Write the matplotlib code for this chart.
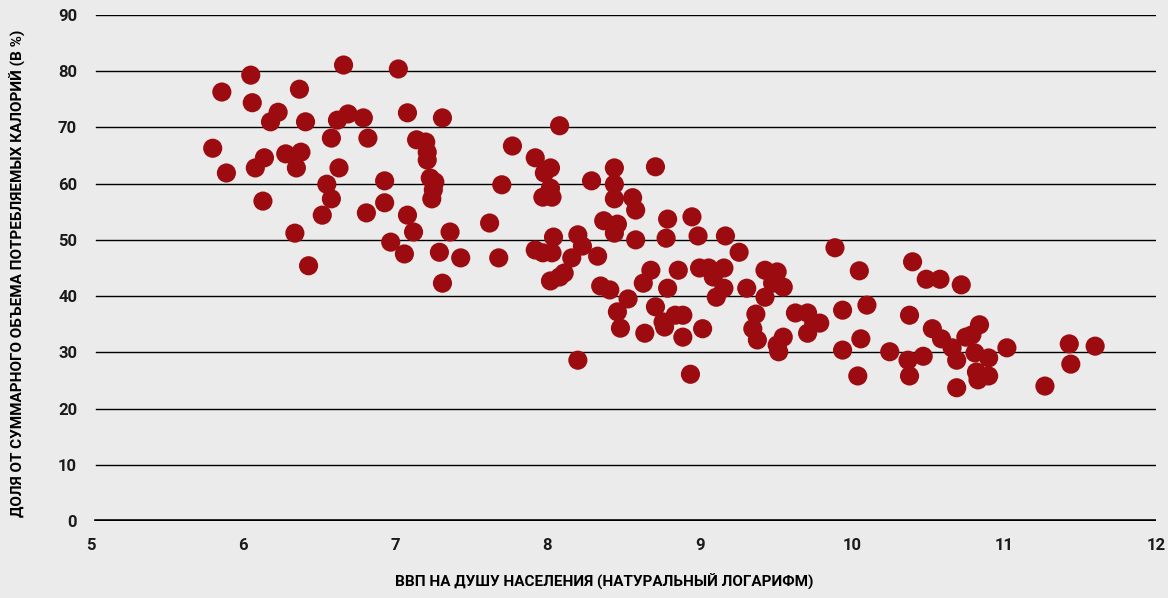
import matplotlib
matplotlib.use("Agg")
import matplotlib.pyplot as plt

# ln(GDP per capita) vs share of calories (%)
gdp_log = [
    5.80, 5.86, 5.89, 6.05, 6.06, 6.08, 6.14, 6.13, 6.18, 6.23,
    6.28, 6.34, 6.35, 6.37, 6.38, 6.41, 6.43, 6.52, 6.55, 6.58,
    6.58, 6.62, 6.63, 6.66, 6.69, 6.79, 6.81, 6.82, 6.93, 6.93,
    6.97, 7.02, 7.06, 7.08, 7.08, 7.12, 7.14, 7.20, 7.21, 7.21,
    7.23, 7.26, 7.25, 7.24, 7.29, 7.31, 7.31, 7.36, 7.43, 7.62,
    7.68, 7.70, 7.77, 7.92, 7.92, 7.97, 8.03, 7.98, 8.02, 8.02,
    7.97, 8.03, 8.04, 8.02, 8.08, 8.11, 8.08, 8.16, 8.20, 8.20,
    8.23, 8.29, 8.33, 8.35, 8.37, 8.41, 8.44, 8.44, 8.44, 8.44,
    8.46, 8.46, 8.48, 8.53, 8.56, 8.58, 8.58, 8.63, 8.64, 8.68,
    8.71, 8.71, 8.77, 8.78, 8.79, 8.79, 8.84, 8.89, 8.86, 8.89,
    8.94, 8.95, 8.99, 9.00, 9.02, 9.06, 9.09, 9.11, 9.16, 9.16,
    9.17, 9.26, 9.31, 9.37, 9.35, 9.38, 9.43, 9.51, 9.48, 9.55,
    9.43, 9.51, 9.52, 9.55, 9.63, 9.71, 9.75, 9.71, 9.89, 9.94,
    9.94, 10.04, 10.05, 10.10, 10.06, 10.25, 10.38, 10.37, 10.38, 10.40,
    10.47, 10.49, 10.58, 10.53, 10.59, 10.66, 10.69, 10.69, 10.72, 10.75,
    10.79, 10.84, 10.81, 10.82, 10.83, 10.90, 10.90, 11.02, 11.27, 11.43,
    11.44, 11.60, 9.79, 8.76,
]
calorie_share = [
    66.3, 76.3, 61.9, 79.3, 74.4, 62.8, 64.6, 56.9, 71.0, 72.7,
    65.3, 51.2, 62.8, 76.8, 65.6, 71.0, 45.4, 54.4, 59.9, 68.1,
    57.3, 71.3, 62.8, 81.1, 72.4, 71.7, 54.8, 68.1, 60.5, 56.6,
    49.6, 80.4, 47.5, 72.6, 54.4, 51.4, 67.8, 67.4, 65.6, 64.2,
    61.0, 60.3, 58.9, 57.3, 47.8, 71.7, 42.3, 51.4, 46.8, 53.0,
    46.8, 59.8, 66.7, 64.6, 48.2, 47.7, 47.7, 61.9, 62.8, 59.2,
    57.6, 57.6, 50.5, 42.7, 43.4, 44.1, 70.3, 46.8, 28.6, 50.9,
    48.9, 60.5, 47.1, 41.8, 53.4, 41.1, 62.8, 59.9, 57.3, 51.2,
    52.8, 37.2, 34.3, 39.5, 57.5, 55.3, 50.0, 42.3, 33.4, 44.6,
    63.0, 38.1, 34.5, 50.3, 53.7, 41.4, 36.6, 36.6, 44.6, 32.7,
    26.1, 54.1, 50.7, 45.0, 34.2, 45.0, 43.4, 39.8, 45.0, 41.4,
    50.7, 47.8, 41.4, 36.8, 34.2, 32.2, 44.6, 44.3, 42.3, 41.6,
    39.8, 31.3, 30.1, 32.7, 37.0, 37.0, 35.2, 33.4, 48.6, 37.5,
    30.4, 25.8, 44.5, 38.4, 32.4, 30.1, 36.6, 28.6, 25.8, 46.1,
    29.3, 43.0, 43.0, 34.2, 32.4, 30.8, 28.6, 23.7, 42.0, 32.7,
    33.1, 34.9, 29.9, 26.5, 25.1, 29.0, 25.8, 30.8, 24.0, 31.5,
    27.9, 31.1, 35.2, 35.4,
]

x_ticks = [5, 6, 7, 8, 9, 10, 11, 12]
y_ticks = [0, 10, 20, 30, 40, 50, 60, 70, 80, 90]

x_title = "ВВП НА ДУШУ НАСЕЛЕНИЯ (НАТУРАЛЬНЫЙ ЛОГАРИФМ)"
y_title = "ДОЛЯ ОТ СУММАРНОГО ОБЪЕМА ПОТРЕБЛЯЕМЫХ КАЛОРИЙ (В %)"

BG = "#ebebeb"
DOT = "#9b0b10"

plt.rcParams["font.family"] = ["Roboto", "DejaVu Sans"]
plt.rcParams["font.weight"] = "bold"

fig = plt.figure(figsize=(11.68, 5.98), dpi=100, facecolor=BG)
ax = fig.add_axes([91 / 1168, 77 / 598, 1065 / 1168, 506 / 598])
ax.set_facecolor(BG)

for y in y_ticks:
    ax.axhline(y, xmin=0.005, color="black", lw=2.6 if y == 0 else 1.0, zorder=1)

ax.scatter(gdp_log, calorie_share, s=190, color=DOT, edgecolors="none",
           zorder=3, clip_on=False)

ax.set_xlim(5, 12)
ax.set_ylim(0, 90)
ax.set_xticks(x_ticks)
ax.set_yticks(y_ticks)
ax.tick_params(length=0, labelsize=12, colors="#1a1a1a")
ax.tick_params(axis="x", pad=12)
ax.tick_params(axis="y", pad=10)
for s in ax.spines.values():
    s.set_visible(False)

ax.set_xlabel(x_title, fontsize=11, fontweight="bold")
ax.set_ylabel(y_title, fontsize=11, fontweight="bold")
ax.xaxis.set_label_coords(0.482, -0.105)
ax.yaxis.set_label_coords(-0.061, 0.49)

fig.savefig("out.png", dpi=100, facecolor=BG)
